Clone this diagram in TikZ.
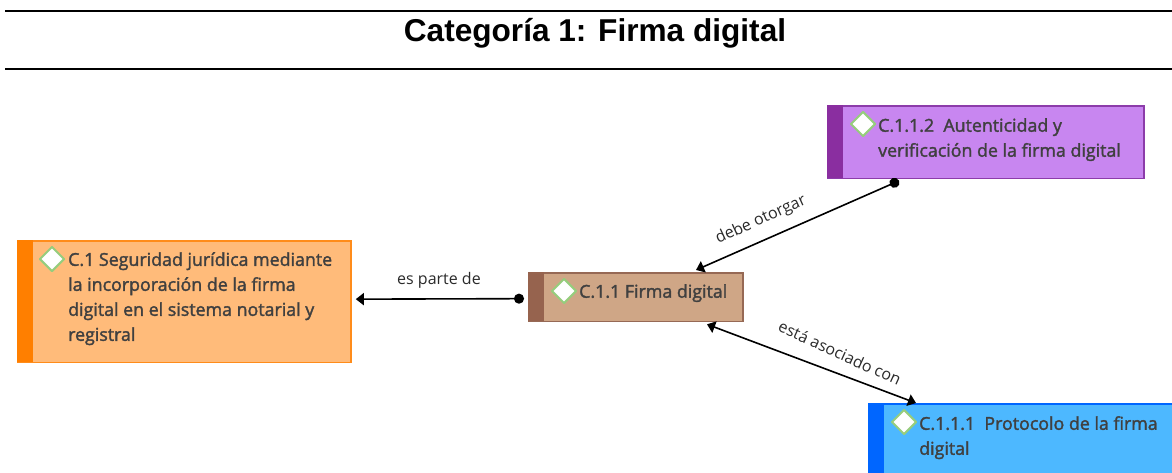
\documentclass[tikz,border=0pt]{standalone}
\usepackage{fontspec}
\setmainfont{Open Sans}
\newfontfamily\titlefont{Liberation Sans}
\newfontfamily\boxfont[FakeBold=1.8]{Open Sans}
\usetikzlibrary{arrows.meta,shapes.geometric,calc}
\definecolor{txt}{HTML}{404040}
\definecolor{lbl}{HTML}{2A2A2A}
\definecolor{orbord}{RGB}{255,140,26}
\definecolor{orfill}{RGB}{255,187,122}
\definecolor{orbar}{RGB}{255,127,0}
\definecolor{brbord}{RGB}{150,105,85}
\definecolor{brfill}{RGB}{207,166,134}
\definecolor{brbar}{RGB}{150,99,78}
\definecolor{pubord}{RGB}{140,60,170}
\definecolor{pufill}{RGB}{200,134,240}
\definecolor{pubar}{RGB}{138,46,160}
\definecolor{blbord}{RGB}{0,102,255}
\definecolor{blfill}{RGB}{77,184,255}
\definecolor{dmd}{RGB}{150,205,125}
\tikzset{
  x=1pt,y=-1pt,
  box/.style={draw=#1,line width=1.8pt,inner sep=0pt,anchor=north west},
  bar/.style={fill=#1,draw=none,inner sep=0pt,anchor=north west,minimum width=16pt},
  mark diamond/.style={diamond,aspect=1,draw=dmd,line width=2pt,fill=white,inner sep=0pt,minimum size=25pt,line join=round},
  boxtext/.style={anchor=north west,inner sep=0pt,align=left,text=txt,font=\boxfont\fontsize{17.8}{25}\selectfont},
  linklabel/.style={text=lbl,inner sep=0pt,font=\fontsize{16}{18}\selectfont},
  link/.style={line width=1.6pt,black},
  rule/.style={line width=2pt,black},
  dottip/.style={{Circle[length=10pt]}-{Triangle[length=8pt,width=12pt]}},
  bothtip/.style={{Triangle[length=8pt,width=12pt]}-{Triangle[length=8pt,width=12pt]}},
}
\begin{document}
\begin{tikzpicture}
\useasboundingbox (0,0) rectangle (1172,472);
% title and rules
\coordinate (r1a) at (5,11); \coordinate (r1b) at (1172,11);
\coordinate (r2a) at (5,69); \coordinate (r2b) at (1172,69);
\draw[rule] (r1a) -- (r1b);
\draw[rule] (r2a) -- (r2b);
\node (title) at (595,33) {\titlefont\fontsize{31.6}{36}\selectfont\bfseries Categoría 1: Firma digital};
% orange
\node[box=orbord,fill=orfill,minimum width=333pt,minimum height=121.5pt] (c1) at (17,240) {};
\node[bar=orbar,minimum height=121.5pt] (c1bar) at (17,240) {};
\node[mark diamond] (c1d) at (52,259) {};
\node[boxtext] (c1t) at (68,252) {C.1 Seguridad jurídica mediante\\la incorporación de la firma\\digital en el sistema notarial y\\registral};
% brown
\node[box=brbord,fill=brfill,minimum width=214pt,minimum height=48.5pt] (c11) at (528,272) {};
\node[bar=brbar,minimum height=48.5pt] (c11bar) at (528,272) {};
\node[mark diamond] (c11d) at (564,291) {};
\node[boxtext] (c11t) at (579,284) {C.1.1 Firma digital};
% purple
\node[box=pubord,fill=pufill,minimum width=316pt,minimum height=72.5pt] (c112) at (827,105) {};
\node[bar=pubar,minimum height=72.5pt] (c112bar) at (827,105) {};
\node[mark diamond] (c112d) at (863,124) {};
\node[boxtext] (c112t) at (878,118) {C.1.1.2\ \ Autenticidad y\\verificación de la firma digital};
% blue
\node[box=blbord,fill=blfill,minimum width=310pt,minimum height=80pt] (c111) at (868,403) {};
\node[bar=blbord,minimum height=80pt] (c111bar) at (868,403) {};
\node[mark diamond] (c111d) at (904,422) {};
\node[boxtext] (c111t) at (919,416) {C.1.1.1\ \ Protocolo de la firma\\digital};
% connector ends
\coordinate (a1) at ($(c11.west)+(-4,1.5)$);
\coordinate (a2) at ($(c1.east)+(4,-2.5)$);
\coordinate (b1) at ($(c112.south west)+(72,1.5)$);
\coordinate (b2) at ($(c11.north west)+(168,-2)$);
\coordinate (d1) at ($(c11.south west)+(179,2)$);
\coordinate (d2) at ($(c111.north west)+(48,0)$);
\draw[link,dottip] (a1) -- (a2);
\draw[link,dottip] (b1) -- (b2);
\draw[link,bothtip] (d1) -- (d2);
% labels
\node[linklabel] (l1) at (439,280) {es parte de};
\node[linklabel,rotate=24.5] (l2) at (761,220) {debe otorgar};
\node[linklabel,rotate=-24.5] (l3) at (840,353) {está asociado con};
\end{tikzpicture}
\end{document}
